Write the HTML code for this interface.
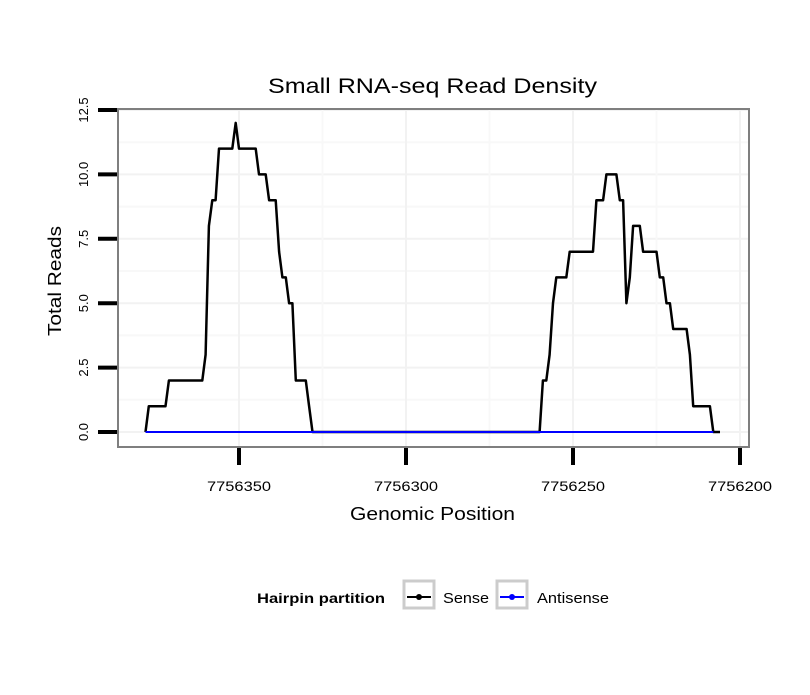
<!DOCTYPE html>
<html><head><meta charset="utf-8"><style>
body{margin:0;background:#fff;}
svg text{font-family:"Liberation Sans",sans-serif;}
</style></head><body>
<svg id="chart" width="810" height="690" xmlns="http://www.w3.org/2000/svg">
<rect width="810" height="690" fill="#fff"/>
<text x="268" y="93" font-size="21" textLength="329" lengthAdjust="spacingAndGlyphs" fill="#000">Small RNA-seq Read Density</text>
<g id="grid"></g>
<g id="series"></g>
<rect x="118" y="109" width="631" height="338" fill="none" stroke="#7f7f7f" stroke-width="2"/>
<g id="axes"></g>
<text x="350" y="520" font-size="18" textLength="165" lengthAdjust="spacingAndGlyphs">Genomic Position</text>
<text transform="translate(61,336) rotate(-90)" font-size="18" textLength="110" lengthAdjust="spacingAndGlyphs">Total Reads</text>
<g>
<text x="257" y="603" font-size="14" font-weight="bold" textLength="128" lengthAdjust="spacingAndGlyphs">Hairpin partition</text>
<g>
<rect x="404" y="581" width="30" height="27" fill="#fff" stroke="#cccccc" stroke-width="3"/>
<line x1="407" y1="597" x2="431" y2="597" stroke="#000" stroke-width="2"/>
<circle cx="419" cy="597" r="3" fill="#000"/>
<text x="443" y="603" font-size="15" textLength="46" lengthAdjust="spacingAndGlyphs">Sense</text>
</g>
<g>
<rect x="497" y="581" width="30" height="27" fill="#fff" stroke="#cccccc" stroke-width="3"/>
<line x1="500" y1="597" x2="524" y2="597" stroke="#0000ff" stroke-width="2"/>
<circle cx="512" cy="597" r="3" fill="#0000ff"/>
<text x="537" y="603" font-size="15" textLength="72" lengthAdjust="spacingAndGlyphs">Antisense</text>
</g>
</g>
</svg>
<script>
const senseOffsets=[378,377,372,371,361,360,359,358,357,356,352,351,350,345,344,342,341,339,338,337,336,335,334,333,330,329,328,
260,259,258,257,256,255,252,251,244,243,241,240,237,236,235,234,233,232,230,229,225,224,223,222,221,220,216,215,214,209,208,206];
const senseValues=[0,1,1,2,2,3,8,9,9,11,11,12,11,11,10,10,9,9,7,6,6,5,5,2,2,1,0,
0,2,2,3,5,6,6,7,7,9,9,10,10,9,9,5,6,8,8,7,7,6,6,5,5,4,4,3,1,1,0,0];
const antisenseOffsets=[378,208];
const antisenseValues=[0,0];
const xTicks=[7756350,7756300,7756250,7756200];
const xMinor=[7756325,7756275,7756225];
const yTicks=[0,2.5,5,7.5,10,12.5];
const yTickLabels=["0.0","2.5","5.0","7.5","10.0","12.5"];
const BASE=7756000;
function xs(p){return 239+(7756350-p)*3.34;}
function ys(v){return 432-v*25.76;}
const NS="http://www.w3.org/2000/svg";
function mk(t,a,parent){const e=document.createElementNS(NS,t);for(const k in a)e.setAttribute(k,a[k]);parent.appendChild(e);return e;}
const grid=document.getElementById('grid'),axes=document.getElementById('axes'),ser=document.getElementById('series');
yTicks.forEach((v,i)=>{
  const g=mk('line',{x1:118,x2:749,y1:ys(v),y2:ys(v),stroke:'#f2f2f2','stroke-width':2},grid);
  
  
  if(i<yTicks.length-1){const m=mk('line',{x1:118,x2:749,y1:ys(v+1.25),y2:ys(v+1.25),stroke:'#f8f8f8','stroke-width':2},grid);
  
  }
  const t=mk('line',{x1:98,x2:117,y1:ys(v),y2:ys(v),stroke:'#000','stroke-width':4},axes);
  
  
  const l=mk('text',{transform:`translate(88,${ys(v)}) rotate(-90)`,'font-size':13,'text-anchor':'middle'},axes);
  l.textContent=yTickLabels[i];
  
  
});
xMinor.forEach(p=>{const m=mk('line',{x1:xs(p),x2:xs(p),y1:109,y2:447,stroke:'#f8f8f8','stroke-width':2},grid);
  
  });
xTicks.forEach(p=>{
  const g=mk('line',{x1:xs(p),x2:xs(p),y1:109,y2:447,stroke:'#f2f2f2','stroke-width':2},grid);
  
  
  const t=mk('line',{x1:xs(p),x2:xs(p),y1:448,y2:465,stroke:'#000','stroke-width':4},axes);
  
  
  const l=mk('text',{x:xs(p)-32,y:491,'font-size':14,textLength:64,lengthAdjust:'spacingAndGlyphs'},axes);
  l.textContent=String(p);
  
  
});
function pts(o,v){return o.map((p,i)=>xs(BASE+p).toFixed(1)+','+ys(v[i]).toFixed(1)).join(' ');}
const s=mk('polyline',{points:pts(senseOffsets,senseValues),fill:'none',stroke:'#000','stroke-width':2.5,'stroke-linejoin':'round'},ser);


const a=mk('polyline',{points:pts(antisenseOffsets,antisenseValues),fill:'none',stroke:'#0000ff','stroke-width':2},ser);


</script>
</body></html>
